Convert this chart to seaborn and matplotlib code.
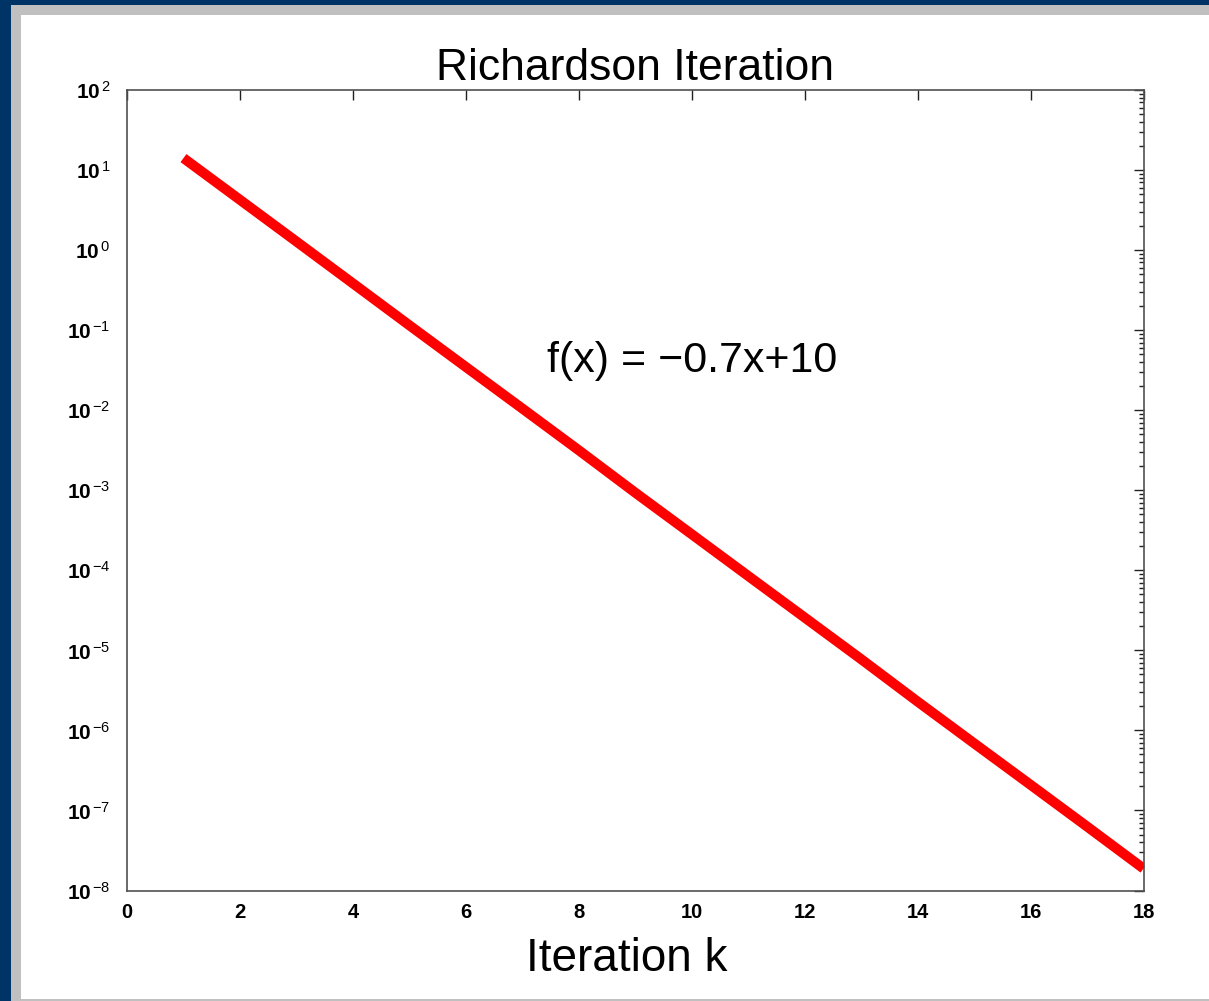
import numpy as np
import pandas as pd
import matplotlib
matplotlib.use('Agg')
import matplotlib.pyplot as plt
import seaborn as sns
from matplotlib.patches import Rectangle
from matplotlib.ticker import FixedLocator, FuncFormatter, LogLocator, NullFormatter

# ---- data ----
iterations = list(range(1, 19))
residuals = [14.1, 4.25, 1.28, 0.384, 0.115, 0.0347, 0.0105, 0.00316, 0.000933,
             0.000282, 8.5e-5, 2.57e-5, 7.76e-6, 2.29e-6, 6.9e-7, 2.09e-7, 6.3e-8, 1.88e-8]
x_ticks = [0, 2, 4, 6, 8, 10, 12, 14, 16, 18]
y_decades = [-8, -7, -6, -5, -4, -3, -2, -1, 0, 1, 2]
title_text = "Richardson Iteration"
xlabel_text = "Iteration k"
annotation_text = "f(x) = \u22120.7x+10"

df = pd.DataFrame({"k": iterations, "residual": residuals})

sns.set_theme(style="white")
plt.rcParams['font.family'] = ['Liberation Sans', 'DejaVu Sans']
plt.rcParams['mathtext.fontset'] = 'custom'
plt.rcParams['mathtext.rm'] = 'Liberation Sans'
plt.rcParams['mathtext.it'] = 'Liberation Sans:italic'
plt.rcParams['mathtext.bf'] = 'Liberation Sans:bold'

W, H = 1209, 1001
fig = plt.figure(figsize=(W / 100, H / 100), dpi=100)
fig.patch.set_facecolor('white')

# window frame: dark blue, grey bevel, white canvas
fig.add_artist(Rectangle((0, 0), 1, 1, transform=fig.transFigure,
                         facecolor='#003466', edgecolor='none', zorder=-3))
fig.add_artist(Rectangle((11 / W, 0), 1, (H - 5) / H, transform=fig.transFigure,
                         facecolor='#c0c0c0', edgecolor='none', zorder=-2))
fig.add_artist(Rectangle((21 / W, 2 / H), 1, (H - 15 - 2) / H, transform=fig.transFigure,
                         facecolor='white', edgecolor='none', zorder=-1))

ax = fig.add_axes([127 / W, 1 - 890.5 / H, (1143.5 - 127) / W, (890.5 - 90) / H])
ax.set_facecolor('white')

sns.lineplot(data=df, x="k", y="residual", color='#ff0000', linewidth=7.2, ax=ax)
for ln in ax.lines:
    ln.set_solid_capstyle('butt')

ax.set_yscale('log')
ax.set_xlim(0, 18)
ax.set_ylim(1e-8, 1e2)

ax.set_xticks(x_ticks)
ax.set_xticklabels([str(t) for t in x_ticks], fontweight='bold')
ax.yaxis.set_major_locator(FixedLocator([10.0 ** d for d in y_decades]))
ax.yaxis.set_major_formatter(FuncFormatter(
    lambda v, p: r'$\mathbf{10}^{\,\mathregular{%d}}$' % int(round(np.log10(v)))))
ax.yaxis.set_minor_locator(LogLocator(base=10, subs=np.arange(2, 10), numticks=100))
ax.yaxis.set_minor_formatter(NullFormatter())

spine_color = '#505050'
for s in ax.spines.values():
    s.set_color(spine_color)
    s.set_linewidth(1.2)

ax.tick_params(which='both', direction='in', top=True, right=True, color='#202020', width=1.0)
ax.tick_params(which='major', length=7.2, labelcolor='black')
ax.tick_params(axis='x', which='major', labelsize=14.5, pad=9)
ax.tick_params(axis='y', which='major', labelsize=15, pad=12)
ax.tick_params(which='minor', length=3.8)

ax.set_title(title_text, fontsize=32, color='black', pad=7)
ax.set_xlabel(xlabel_text, fontsize=33, color='black', labelpad=11)
ax.xaxis.label.set_x(0.5 - 8 / 1016.5)
ax.set_ylabel('')

ax.text(7.44, 10 ** -1.525, annotation_text, fontsize=31, color='black',
        ha='left', va='baseline')

fig.savefig('out.png', dpi=100, facecolor=fig.get_facecolor())
